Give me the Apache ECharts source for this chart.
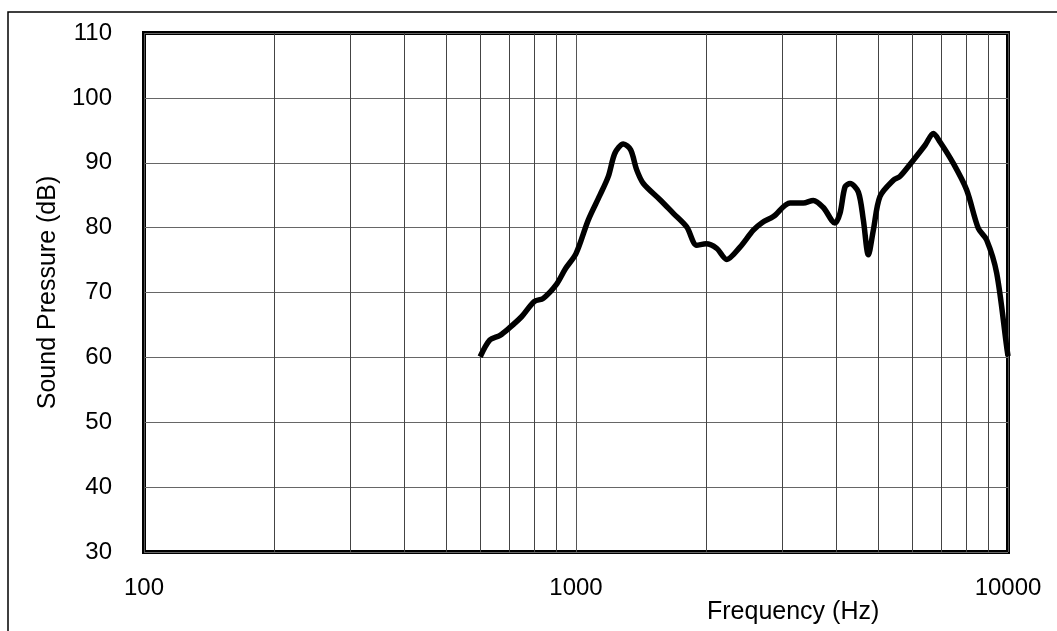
<!DOCTYPE html>
<html>
<head>
<meta charset="utf-8">
<title>Sound Pressure</title>
<script src="https://cdn.jsdelivr.net/npm/echarts@6/dist/echarts.min.js"></script>
<style>
  html, body { margin: 0; padding: 0; background: #fff; }
  #chart { width: 1057px; height: 631px; }
</style>
</head>
<body>
<div id="chart"></div>
<script>
// 周波数特性データ
var freqs = [600, 632, 667, 700, 749, 800, 840, 900, 946, 1000, 1068, 1136, 1188, 1231, 1287, 1338, 1382, 1432,
  1565, 1680, 1804, 1903, 2000, 2117, 2233, 2397, 2573, 2700, 2863, 3129, 3359, 3543, 3737, 3977, 4084, 4196,
  4310, 4503, 4625, 4751, 4878, 5054, 5427, 5623, 6037, 6426, 6719, 6961, 7472, 8023, 8535, 8925, 9414, 9931, 10000];
var spl = [60.1, 62.7, 63.4, 64.5, 66.3, 68.6, 69.1, 71.2, 73.7, 76.0, 81.2, 85.0, 87.9, 91.5, 92.9, 92.0, 88.9, 86.8,
  84.3, 82.2, 80.1, 77.3, 77.5, 76.8, 75.1, 77.0, 79.6, 80.8, 81.7, 83.8, 83.8, 84.2, 83.1, 80.7, 82.2, 86.3,
  86.8, 85.5, 81.2, 75.8, 79.6, 84.8, 87.3, 87.9, 90.4, 92.7, 94.5, 93.2, 89.9, 85.8, 79.9, 78.1, 73.0, 61.6, 60.2];

// 補助目盛（縦の細線）
var minorFreqs = [200, 300, 400, 500, 600, 700, 800, 900, 2000, 3000, 4000, 5000, 6000, 7000, 8000, 9000];
var yTicks = [30, 40, 50, 60, 70, 80, 90, 100, 110];

var FONT = 'Liberation Sans, Arial, sans-serif';

var chart = echarts.init(document.getElementById('chart'));

var lineData = [];
for (var i = 0; i < freqs.length; i++) {
  lineData.push([freqs[i], spl[i]]);
}
var gridLines = [];
for (var j = 0; j < minorFreqs.length; j++) {
  gridLines.push({ xAxis: minorFreqs[j] });
}

var option = {
  animation: false,
  backgroundColor: '#fff',
  grid: {
    left: 144, top: 33, width: 864, height: 519,
    show: true, borderColor: '#000', borderWidth: 4
  },
  xAxis: {
    type: 'log', logBase: 10, min: 100, max: 10000,
    axisLine: { show: false },
    axisTick: { show: false },
    axisLabel: {
      fontSize: 24, color: '#000', fontFamily: FONT, margin: 24,
      formatter: function (v) { return String(v); }
    },
    splitLine: { show: true, lineStyle: { color: '#555', width: 1 } }
  },
  yAxis: {
    type: 'value', min: yTicks[0], max: yTicks[yTicks.length - 1], interval: 10,
    name: 'Sound Pressure (dB)',
    nameLocation: 'middle', nameGap: 82,
    nameTextStyle: { fontSize: 25, color: '#000', fontFamily: FONT },
    axisLine: { show: false },
    axisTick: { show: false },
    axisLabel: { fontSize: 24, color: '#000', fontFamily: FONT, margin: 32 },
    splitLine: { show: true, lineStyle: { color: '#666', width: 1 } }
  },
  graphic: [
    {
      type: 'rect', z: -1, silent: true,
      shape: { x: 8, y: 12, width: 1100, height: 700 },
      style: { fill: 'none', stroke: '#000', lineWidth: 1.5 }
    },
    {
      type: 'text', left: 707, top: 600,
      style: { text: 'Frequency (Hz)', fontSize: 25, fill: '#000', fontFamily: FONT }
    }
  ],
  series: [
    {
      type: 'line', data: [], silent: true,
      markLine: {
        silent: true, symbol: 'none', label: { show: false },
        lineStyle: { color: '#444', width: 1, type: 'solid' },
        data: gridLines
      }
    },
    {
      type: 'line', data: lineData,
      showSymbol: false, smooth: 0.3,
      lineStyle: { color: '#000', width: 5.5 },
      z: 5
    }
  ]
};

chart.setOption(option);
</script>
</body>
</html>
